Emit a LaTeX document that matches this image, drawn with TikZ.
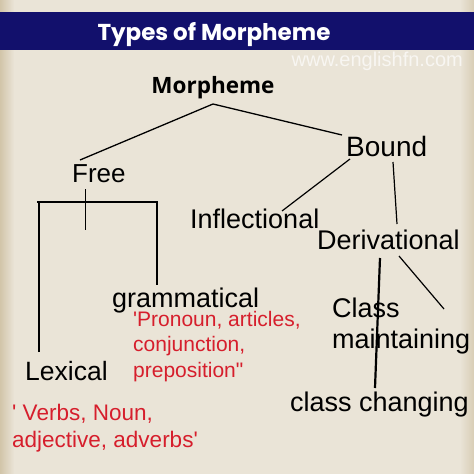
\documentclass[tikz,border=0pt]{standalone}
\usepackage{fontspec}
\setmainfont{Liberation Sans}[Ligatures=TeXOff]
\newfontfamily\titlefont{Poppins}
\newfontfamily\headfont{Open Sans}
\definecolor{paper}{RGB}{234,228,215}
\definecolor{paperdark}{RGB}{200,184,150}
\definecolor{navy}{RGB}{18,16,108}
\definecolor{redtxt}{RGB}{214,30,44}
\definecolor{webgray}{RGB}{248,246,242}
\begin{document}
\begin{tikzpicture}[x=1pt,y=-1pt,
  lbl/.style={anchor=base west,inner sep=0pt,text=black,font=\fontsize{27}{30}\selectfont},
  redlbl/.style={anchor=base west,inner sep=0pt,text=redtxt,align=left},
  tree/.style={line width=1.3pt,black},
  thick tree/.style={line width=2.2pt,black}]
\useasboundingbox (0,0) rectangle (474,474);
% background
\fill[paper] (0,0) rectangle (474,474);
\shade[left color=paperdark,right color=paper,opacity=0.7] (0,0) rectangle (14,474);
\shade[left color=paper,right color=paperdark,opacity=0.5] (460,0) rectangle (474,474);
% banner
\fill[navy] (0,12) rectangle (474,50);
\node[anchor=base,inner sep=0pt,text=white,font=\titlefont\bfseries\fontsize{23}{26}\selectfont] (title) at (214,40) {Types of Morpheme};
\node[anchor=base east,inner sep=0pt,text=webgray,font=\fontsize{20}{22}\selectfont] (web) at (463,66) {www.englishfn.com};
% nodes
\node[anchor=base,inner sep=0pt,font=\headfont\bfseries\fontsize{22.5}{26}\selectfont] (morph) at (213,93) {Morpheme};
\node[lbl,font=\fontsize{26}{30}\selectfont] (free) at (72,182) {Free};
\node[lbl,font=\fontsize{28}{32}\selectfont] (bound) at (346,156) {Bound};
\node[lbl] (infl) at (190,228) {Inflectional};
\node[lbl] (deriv) at (317,249) {Derivational};
\node[lbl] (gram) at (112,307) {grammatical};
\node[redlbl,font=\fontsize{21}{25.5}\selectfont] (gramex) at (133,377) {'Pronoun, articles,\\conjunction,\\preposition"};
\node[lbl,font=\fontsize{26.5}{30}\selectfont] (lex) at (25,380) {Lexical};
\node[redlbl,font=\fontsize{22.5}{27}\selectfont] (lexex) at (12,447) {' Verbs, Noun,\\adjective, adverbs'};
\node[lbl] (cm) at (332,317) {Class};
\node[lbl] (cm2) at (332,348) {maintaining};
\node[lbl] (cc) at (290,411) {class changing};
% connector points
\coordinate (mtop) at (213,104);
\coordinate (freetop) at (80,160);
\coordinate (boundleft) at (342,135);
\coordinate (freestem1) at (85,189);
\coordinate (freestem2) at (85,230);
\coordinate (brL) at (37,202);
\coordinate (brC) at (39,202);
\coordinate (brR) at (158,202);
\coordinate (brRc) at (157,202);
\coordinate (brLb) at (39,352);
\coordinate (brRb) at (157,285);
\coordinate (bInfl1) at (350,159);
\coordinate (bInfl2) at (282,211);
\coordinate (bDer1) at (393,162);
\coordinate (bDer2) at (397,224);
\coordinate (dCC1) at (380,258);
\coordinate (dCC2) at (375,388);
\coordinate (dCM1) at (399,256);
\coordinate (dCM2) at (444,309);
% connectors
\draw[tree] (freetop) -- (mtop) -- (boundleft);
\draw[line width=0.9pt] (freestem1) -- (freestem2);
\draw[line width=2pt] (brLb) -- (brC) -- (brR);
\draw[line width=2pt] (brL) -- (brC);
\draw[line width=1.6pt] (brRc) -- (brRb);
\draw[line width=1.2pt] (bInfl1) -- (bInfl2);
\draw[line width=1.2pt] (bDer1) -- (bDer2);
\draw[thick tree] (dCC1) -- (dCC2);
\draw[line width=1.2pt] (dCM1) -- (dCM2);
\end{tikzpicture}
\end{document}
